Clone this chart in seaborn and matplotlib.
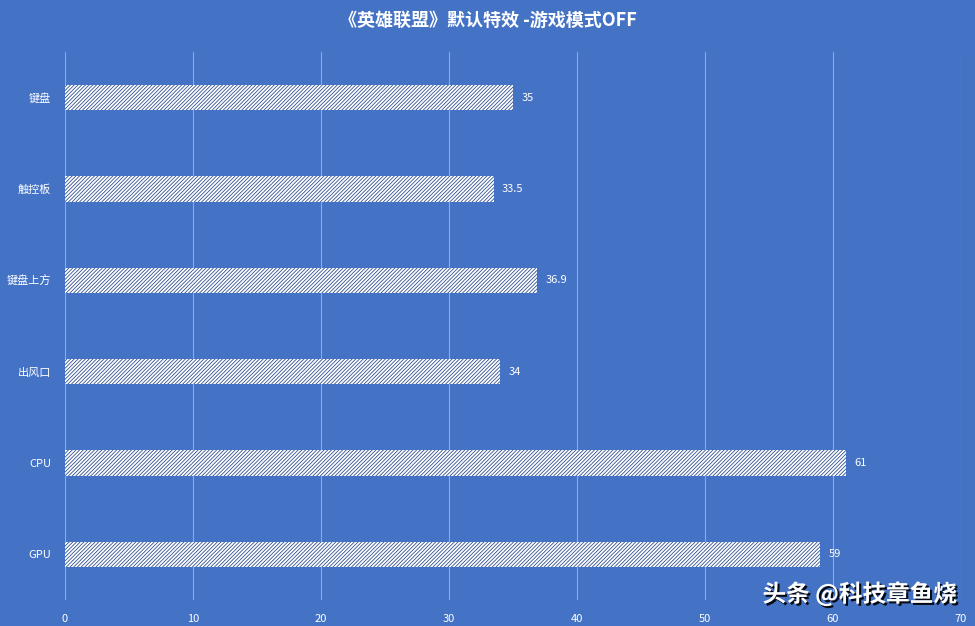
import numpy as np
import pandas as pd
import matplotlib
matplotlib.use("Agg")
import matplotlib.pyplot as plt
import matplotlib.patheffects as pe
import seaborn as sns

# data
locations = ['键盘', '触控板', '键盘上方', '出风口', 'CPU', 'GPU']
temps = [35, 33.5, 36.9, 34, 61, 59]
x_ticks = [0, 10, 20, 30, 40, 50, 60, 70]

bg = '#4472C4'

sns.set_theme(style="white")
plt.rcParams['font.family'] = ['Noto Sans CJK SC', 'DejaVu Sans']
plt.rcParams['hatch.linewidth'] = 0.6
plt.rcParams['hatch.color'] = '#2F4F8F'

df = pd.DataFrame({'loc': locations, 'temp': temps})

fig = plt.figure(figsize=(9.75, 6.26), dpi=100, facecolor=bg)
ax = fig.add_axes([65/975, 1-600/626, (961-65)/975, (600-52)/626])
ax.set_facecolor(bg)

sns.barplot(data=df, x='temp', y='loc', orient='h', width=0.28,
            color='white', ax=ax, zorder=3)
for p in ax.patches:
    p.set_facecolor('white')
    p.set_edgecolor('#2F4F8F')
    p.set_hatch('/////////')
    p.set_linewidth(0)

for i, v in enumerate(temps):
    ax.annotate(f'{v:g}', (v, i), xytext=(6, 0), textcoords='offset points',
                va='center', ha='left', color='white', fontsize=8)

ax.set_xlim(0, 70)
ax.set_ylim(5.5, -0.5)
ax.set_xticks(x_ticks)
ax.xaxis.grid(True, color='#8EA9DB', linewidth=0.8, zorder=0)
ax.set_axisbelow(True)
for s in ax.spines.values():
    s.set_visible(False)
ax.tick_params(axis='both', colors='white', labelsize=8, length=0, pad=10)
ax.set_xlabel('')
ax.set_ylabel('')
for t in ax.get_yticklabels():
    t.set_color('white')

fig.text(0.5, 1-20/626, '《英雄联盟》默认特效 -游戏模式OFF', ha='center', va='center',
         color='white', fontsize=13, fontweight='bold')

fig.text(957/975, 1-594/626, '头条 @科技章鱼烧', ha='right', va='center',
         color='white', fontsize=17, fontweight='bold',
         path_effects=[pe.withSimplePatchShadow(offset=(1.5, -1.5), shadow_rgbFace='black', alpha=0.9)])

fig.savefig('out.png', dpi=100, facecolor=bg)
